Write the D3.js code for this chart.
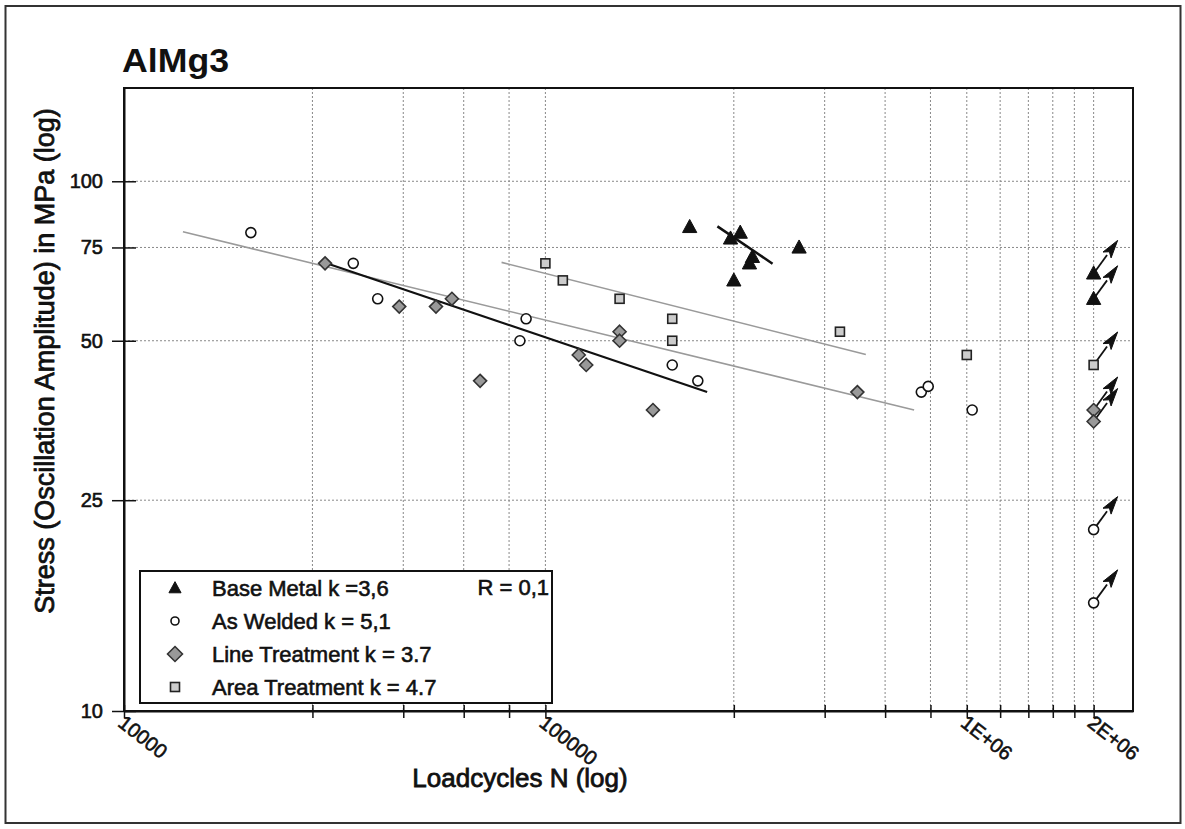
<!DOCTYPE html>
<html>
<head>
<meta charset="utf-8">
<script src="https://cdn.jsdelivr.net/npm/d3@7"></script>
<style>
  html, body { margin: 0; padding: 0; background: #fff; }
  svg { display: block; font-family: "Liberation Sans", Arial, sans-serif; }
  .thick { stroke: #111; stroke-width: 0.6px; }
  .thicker { stroke: #111; stroke-width: 0.8px; }
</style>
</head>
<body>
<svg id="chart" width="1185" height="829"></svg>
<script>
// ---------------- DATA ----------------
const title = "AlMg3";
const xLabel = "Loadcycles N (log)";
const yLabel = "Stress (Oscillation Amplitude) in MPa (log)";

const xTickValues = [1e4, 2.8e4, 4.6e4, 6.4e4, 8.2e4, 1e5, 2.8e5, 4.6e5, 6.4e5, 8.2e5, 1e6, 1.2e6, 1.4e6, 1.6e6, 1.8e6, 2e6];
const xTickLabels = {10000: "10000", 100000: "100000", 1000000: "1E+06", 2000000: "2E+06"};
const yTickValues = [10, 25, 50, 75, 100];

// [N, stress MPa]
const baseMetal = [[220000, 82], [290000, 80], [275000, 78], [310000, 72], [305000, 70], [280000, 65], [400000, 75]];
const baseMetalRunouts = [[2e6, 67], [2e6, 60]];
const asWelded = [[20000, 80], [35000, 70], [40000, 60], [87000, 50], [90000, 55], [200000, 45], [230000, 42], [780000, 40], [810000, 41], [1030000, 37]];
const asWeldedRunouts = [[2e6, 22], [2e6, 16]];
const lineTreatment = [[30000, 70], [45000, 58], [55000, 58], [60000, 60], [70000, 42], [120000, 47], [125000, 45], [150000, 52], [150000, 50], [180000, 37], [550000, 40]];
const lineTreatmentRunouts = [[2e6, 37], [2e6, 35.2]];
const areaTreatment = [[100000, 70], [110000, 65], [150000, 60], [200000, 55], [200000, 50], [500000, 52], [1000000, 47]];
const areaTreatmentRunouts = [[2e6, 45]];

// regression line end points [N, stress]
const fitBaseMetal = [[256000, 82.2], [346000, 69.9]];
const fitAsWelded = [[13800, 80.3], [750000, 37]];
const fitLineTreatment = [[30000, 70.2], [242000, 40]];
const fitAreaTreatment = [[78700, 70.3], [576000, 47.1]];

const legendLabels = ["Base Metal k =3,6", "As Welded k = 5,1", "Line Treatment k = 3.7", "Area Treatment k = 4.7"];
const legendSymbols = ["triangle", "circle", "diamond", "square"];
const ratioLabel = "R = 0,1";

// ---------------- CHART ----------------
const svg = d3.select("#chart");
const L = 124, R = 1133, T = 88, B = 711;

const x = d3.scaleLog().domain([1e4, 2.48e6]).range([L, R]);
const y = d3.scaleLog().domain([10, 150]).range([B, T]);

// outer frame
svg.append("rect").attr("x", 5.5).attr("y", 6).attr("width", 1175).attr("height", 817)
  .attr("fill", "none").attr("stroke", "#333").attr("stroke-width", 2);

// title
svg.append("text").attr("x", 122).attr("y", 72).attr("font-size", 33).attr("font-weight", "bold")
  .attr("textLength", 107).attr("lengthAdjust", "spacingAndGlyphs")
  .attr("fill", "#111").text(title);

// grid
const grid = svg.append("g").attr("stroke", "#888").attr("stroke-width", 1).attr("stroke-dasharray", "2,2");
grid.selectAll("line.vx").data(xTickValues.filter(d => d > 1e4)).enter().append("line")
  .attr("x1", d => x(d)).attr("x2", d => x(d)).attr("y1", T).attr("y2", B);
grid.selectAll("line.hy").data(yTickValues.filter(d => d > 10)).enter().append("line")
  .attr("x1", L).attr("x2", R).attr("y1", d => y(d)).attr("y2", d => y(d));

// frame of plot
svg.append("rect").attr("x", L).attr("y", T).attr("width", R - L).attr("height", B - T)
  .attr("fill", "none").attr("stroke", "#111").attr("stroke-width", 2);

// x axis
const xAxis = d3.axisBottom(x).tickValues(xTickValues).tickFormat(d => xTickLabels[d] || "").tickSize(0);
const gx = svg.append("g").attr("transform", `translate(0,${B})`).call(xAxis);
gx.select(".domain").attr("stroke", "#111").attr("stroke-width", 2);
gx.selectAll(".tick line").attr("y1", -6).attr("y2", 7).attr("stroke", "#111").attr("stroke-width", 1.5);
gx.selectAll(".tick text").attr("font-size", 20).attr("fill", "#111").attr("class", "thick")
  .attr("text-anchor", "start").attr("transform", "translate(1,3) rotate(38)").attr("dy", "0.72em").attr("y", 0).attr("x", 0)
  .attr("font-family", "'Liberation Sans', Arial, sans-serif");

// y axis
const yAxis = d3.axisLeft(y).tickValues(yTickValues).tickFormat(d3.format("d")).tickSize(0);
const gy = svg.append("g").attr("transform", `translate(${L},0)`).call(yAxis);
gy.select(".domain").attr("stroke", "#111").attr("stroke-width", 2);
gy.selectAll(".tick line").attr("x1", -12).attr("x2", 12).attr("stroke", "#111").attr("stroke-width", 1.5);
gy.selectAll(".tick text").attr("font-size", 20).attr("fill", "#111").attr("x", -21).attr("class", "thick")
  .attr("font-family", "'Liberation Sans', Arial, sans-serif");

// axis titles
svg.append("text").attr("x", 520).attr("y", 787).attr("text-anchor", "middle").attr("font-size", 26)
  .attr("class", "thicker").attr("fill", "#111").text(xLabel);
svg.append("text").attr("transform", `translate(54,361) rotate(-90)`).attr("text-anchor", "middle")
  .attr("font-size", 27).attr("class", "thicker").attr("fill", "#111").text(yLabel);

// fit lines
const lineGen = d3.line().x(d => x(d[0])).y(d => y(d[1]));
const fits = [
  {d: fitAsWelded, c: "#9a9a9a", w: 1.6},
  {d: fitAreaTreatment, c: "#9a9a9a", w: 1.6},
  {d: fitLineTreatment, c: "#111", w: 2.2},
  {d: fitBaseMetal, c: "#111", w: 2.5}
];
svg.append("g").selectAll("path").data(fits).enter().append("path")
  .attr("d", f => lineGen(f.d)).attr("fill", "none").attr("stroke", f => f.c).attr("stroke-width", f => f.w);

// symbols
function drawSymbol(g, type, cx, cy, scale) {
  scale = scale || 1;
  if (type === "triangle") {
    const s = 7.5 * scale;
    g.append("path").attr("d", `M${cx},${cy - s} L${cx + s * 0.95},${cy + s * 0.75} L${cx - s * 0.95},${cy + s * 0.75} Z`)
      .attr("fill", "#111").attr("stroke", "#111").attr("stroke-width", 1);
  } else if (type === "circle") {
    g.append("circle").attr("cx", cx).attr("cy", cy).attr("r", 5 * scale)
      .attr("fill", "#fff").attr("stroke", "#111").attr("stroke-width", 1.6);
  } else if (type === "diamond") {
    const s = 6.5 * scale;
    g.append("path").attr("d", `M${cx},${cy - s} L${cx + s},${cy} L${cx},${cy + s} L${cx - s},${cy} Z`)
      .attr("fill", "#999").attr("stroke", "#333").attr("stroke-width", 1.6);
  } else if (type === "square") {
    const s = 4.5 * scale;
    g.append("rect").attr("x", cx - s).attr("y", cy - s).attr("width", 2 * s).attr("height", 2 * s)
      .attr("fill", "#ccc").attr("stroke", "#222").attr("stroke-width", 1.6);
  }
}

// run-out arrows
const arrowDX = 24, arrowDY = -33;
function drawArrow(g, cx, cy) {
  const x2 = cx + arrowDX, y2 = cy + arrowDY;
  const len = Math.hypot(arrowDX, arrowDY);
  const ux = arrowDX / len, uy = arrowDY / len;
  const px = -uy, py = ux;
  const hl = 18, hw = 5;
  const bx = x2 - ux * hl, by = y2 - uy * hl;
  g.append("line").attr("x1", cx).attr("y1", cy).attr("x2", bx).attr("y2", by)
    .attr("stroke", "#111").attr("stroke-width", 1.8);
  g.append("path").attr("d", `M${x2},${y2} L${bx + px * hw},${by + py * hw} L${bx + ux * 4},${by + uy * 4} L${bx - px * hw},${by - py * hw} Z`)
    .attr("fill", "#111").attr("stroke", "#111").attr("stroke-width", 1);
}

const marks = svg.append("g");
const series = [
  {pts: asWelded, run: asWeldedRunouts, sym: "circle"},
  {pts: areaTreatment, run: areaTreatmentRunouts, sym: "square"},
  {pts: lineTreatment, run: lineTreatmentRunouts, sym: "diamond"},
  {pts: baseMetal, run: baseMetalRunouts, sym: "triangle"}
];
series.forEach(s => {
  s.run.forEach(p => drawArrow(marks, x(p[0]), y(p[1])));
});
series.forEach(s => {
  s.pts.forEach(p => drawSymbol(marks, s.sym, x(p[0]), y(p[1])));
  s.run.forEach(p => drawSymbol(marks, s.sym, x(p[0]), y(p[1])));
});

// legend
const lg = svg.append("g");
const LX = 140, LY = 571, LW = 412, LH = 132;
const legendScale = {triangle: 0.85, circle: 0.8, diamond: 1.15, square: 1.0};
lg.append("rect").attr("x", LX).attr("y", LY).attr("width", LW).attr("height", LH)
  .attr("fill", "#fff").attr("stroke", "#111").attr("stroke-width", 2);
legendLabels.forEach((lab, i) => {
  const cy = LY + 17 + i * 33;
  drawSymbol(lg, legendSymbols[i], LX + 35, cy, legendScale[legendSymbols[i]]);
  lg.append("text").attr("x", LX + 72).attr("y", cy + 8).attr("font-size", 22).attr("class", "thick")
    .attr("fill", "#111").text(lab);
});
lg.append("text").attr("x", LX + LW - 3).attr("y", LY + 24).attr("text-anchor", "end")
  .attr("font-size", 22).attr("class", "thick").attr("fill", "#111").text(ratioLabel);
</script>
</body>
</html>
